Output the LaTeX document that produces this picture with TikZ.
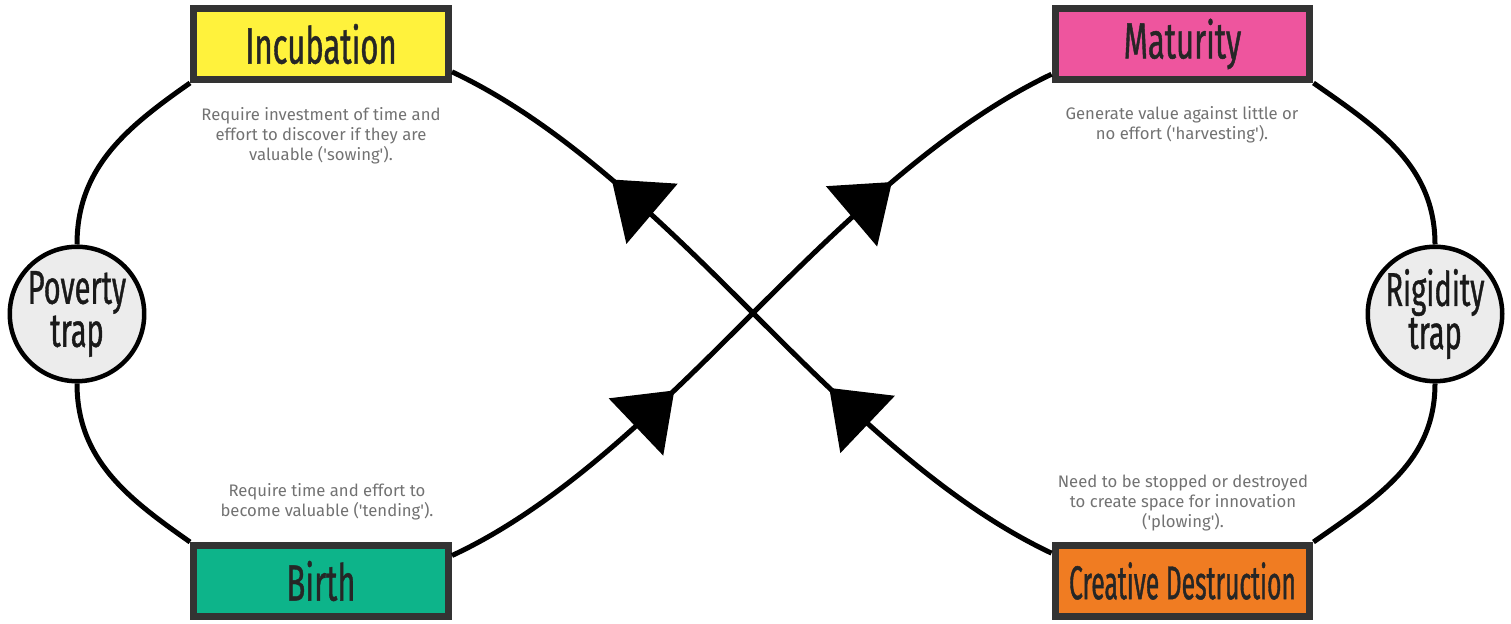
\documentclass[tikz,border=0pt]{standalone}
\usepackage{fontspec}
\setmainfont{Fira Sans}
\newfontfamily\titlefont[FakeStretch=0.61, FakeBold=0.8]{Fira Sans}
\newfontfamily\narrowfont[FakeStretch=0.52, FakeBold=0.8]{Fira Sans}
\usetikzlibrary{arrows.meta,decorations.markings}

\definecolor{incyellow}{HTML}{FFF23C}
\definecolor{matpink}{HTML}{EE559E}
\definecolor{birthgreen}{HTML}{0DB48A}
\definecolor{cdorange}{HTML}{F07C22}
\definecolor{boxborder}{HTML}{333333}
\definecolor{trapgray}{HTML}{ECECEC}
\definecolor{desctext}{HTML}{727272}

\begin{document}
\begin{tikzpicture}[x=0.02cm, y=0.02cm,
    stage/.style={draw=boxborder, line width=0.14cm, minimum width=5.1cm, minimum height=1.42cm,
        inner sep=0pt, text=black!85, font=\titlefont\fontsize{29}{29}\selectfont},
    trap/.style={circle, draw=black, fill=trapgray, line width=0.09cm, minimum size=2.69cm,
        inner sep=0pt, align=center, text=black!90, font=\titlefont\fontsize{27}{21}\selectfont},
    desc/.style={text=desctext, align=center, font=\fontsize{9.5}{11.4}\selectfont},
    rim/.style={line width=0.1cm},
    flow/.style={line width=0.1cm, postaction={decorate}, decoration={markings,
        mark=at position 0.36 with {\arrow{Triangle[length=1.06cm, width=1.56cm]}},
        mark=at position 0.75 with {\arrow{Triangle[length=1.06cm, width=1.56cm]}}}}]
    \useasboundingbox (0,0) rectangle (1511,624);

    % stages of the cycle
    \node[stage, fill=incyellow] (incubation) at (321,580) {Incubation};
    \node[stage, fill=matpink] (maturity) at (1182.5,580) {Maturity};
    \node[stage, fill=birthgreen] (birth) at (321,43) {Birth};
    \node[stage, fill=cdorange, font=\narrowfont\fontsize{27}{27}\selectfont] (cd) at (1182.5,43) {Creative Destruction};

    % traps
    \node[trap] (poverty) at (77,310) {Poverty\\trap};
    \node[trap] (rigidity) at (1435,310) {Rigidity\\trap};
    \coordinate (cross) at (753,311);

    % descriptions
    \node[desc] (incdesc) at (321,488) {Require investment of time and\\effort to discover if they are\\valuable (\textquotesingle sowing\textquotesingle).};
    \node[desc] (matdesc) at (1182,499) {Generate value against little or\\no effort (\textquotesingle harvesting\textquotesingle).};
    \node[desc] (birthdesc) at (327,122) {Require time and effort to\\become valuable (\textquotesingle tending\textquotesingle).};
    \node[desc] (cddesc) at (1183,121) {Need to be stopped or destroyed\\to create space for innovation\\(\textquotesingle plowing\textquotesingle).};

    % outer arcs
    \draw[rim] (incubation.south west) to[out=215,in=90] (poverty.north);
    \draw[rim] (poverty.south) to[out=-90,in=145] (birth.north west);
    \draw[rim] (maturity.south east) to[out=-35,in=90] (rigidity.north);
    \draw[rim] (rigidity.south) to[out=-90,in=35] (cd.north east);

    % crossing flows
    \draw[flow] (birth.11) .. controls (561,119) and (661,219) .. (cross)
        .. controls (845,403) and (943,498) .. (maturity.193);
    \draw[flow] (cd.168) .. controls (943,122) and (845,219) .. (cross)
        .. controls (661,403) and (561,501) .. (incubation.-12);
\end{tikzpicture}
\end{document}
